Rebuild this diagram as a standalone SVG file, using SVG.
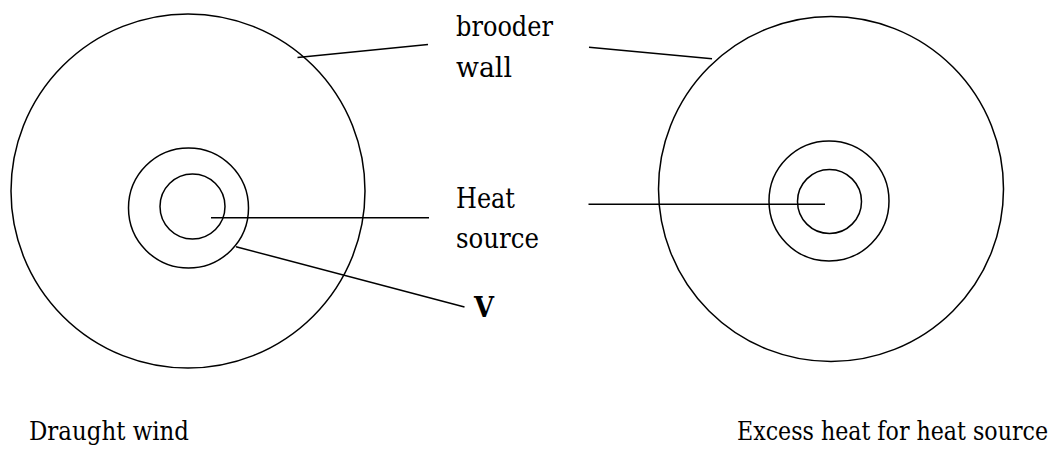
<svg xmlns="http://www.w3.org/2000/svg" width="1060" height="450" viewBox="0 0 1060 450">
<style>
.c{fill:none;stroke:#000;stroke-width:1.5}
.l{fill:none;stroke:#000;stroke-width:1.5}
text{font-family:'DejaVu Serif',serif;fill:#000}
.t{font-size:27px}
.b{font-size:26px}
</style>
<rect width="1060" height="450" fill="#fff"/>
<g id="left-brooder">
<circle class="c" cx="188" cy="191" r="177"/>
<circle class="c" cx="188.5" cy="208" r="60"/>
<circle class="c" cx="192.5" cy="206.5" r="32.5"/>
<text class="b" x="29" y="440" textLength="160" lengthAdjust="spacingAndGlyphs">Draught wind</text>
</g>
<g id="right-brooder">
<circle class="c" cx="831" cy="189" r="172.5"/>
<circle class="c" cx="829" cy="201" r="60"/>
<circle class="c" cx="829.5" cy="201.5" r="32"/>
<text class="b" x="737" y="440" textLength="311" lengthAdjust="spacingAndGlyphs">Excess heat for heat source</text>
</g>
<g id="label-brooder-wall">
<text class="t" x="456" y="36" textLength="97" lengthAdjust="spacingAndGlyphs">brooder</text>
<text class="t" x="456" y="77" textLength="56" lengthAdjust="spacingAndGlyphs">wall</text>
</g>
<g id="label-heat-source">
<text class="t" x="456" y="208" textLength="59" lengthAdjust="spacingAndGlyphs">Heat</text>
<text class="t" x="456" y="248" textLength="83" lengthAdjust="spacingAndGlyphs">source</text>
</g>
<g id="label-v">
<text class="t" x="474" y="317" font-weight="bold" textLength="20" lengthAdjust="spacingAndGlyphs">V</text>
</g>
<g id="connectors">
<line class="l" x1="297.5" y1="57.5" x2="428" y2="44.5"/>
<line class="l" x1="589" y1="47.3" x2="712" y2="58.7"/>
<line class="l" x1="211" y1="217.7" x2="429" y2="217.7"/>
<line class="l" x1="588.5" y1="204.3" x2="825" y2="204.3"/>
<line class="l" x1="236" y1="246.7" x2="464.5" y2="307"/>
</g>
</svg>
